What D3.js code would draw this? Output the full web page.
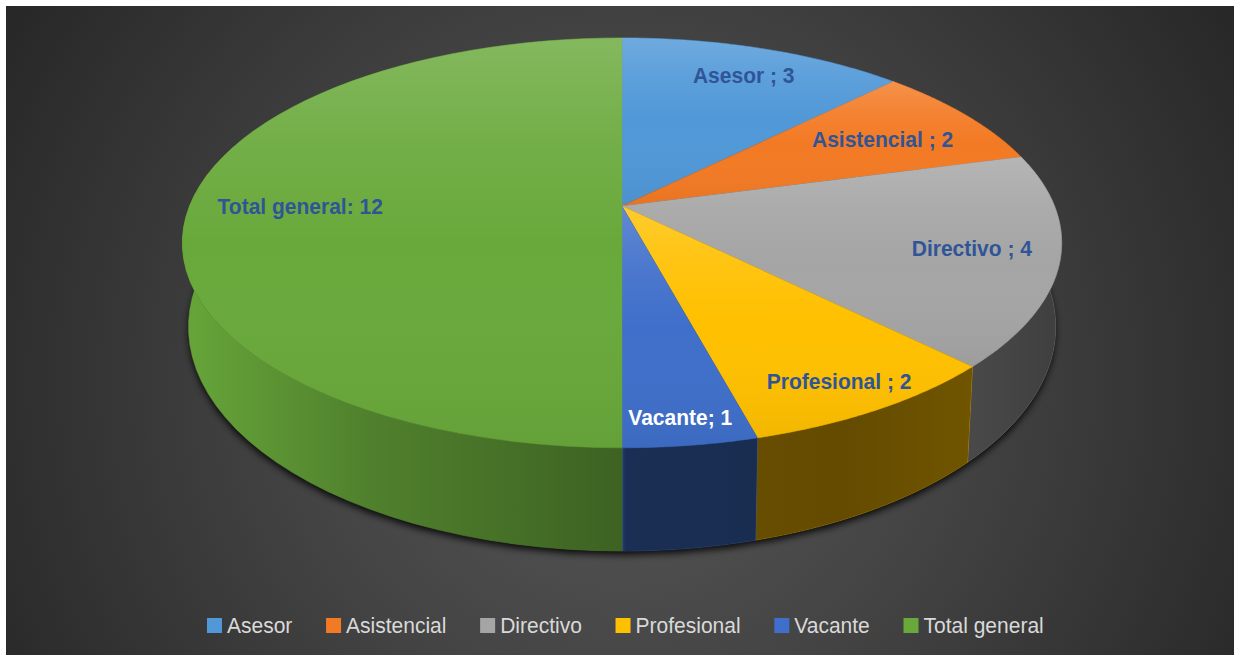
<!DOCTYPE html>
<html><head><meta charset="utf-8">
<script src="https://cdn.jsdelivr.net/npm/d3@7/dist/d3.min.js"></script>
<style>html,body{margin:0;padding:0;background:#fff;overflow:hidden}svg{display:block}
text{font-family:"Liberation Sans",Arial,sans-serif}</style></head>
<body><svg id="c" width="1234" height="655"></svg>
<script>
const categories=["Asesor","Asistencial","Directivo","Profesional","Vacante","Total general"];
const values=[3,2,4,2,1,12];
const separators=[" ; "," ; "," ; "," ; ","; ",": "];
const colors=["#5098d8","#f37a24","#a5a5a5","#ffc000","#3f6fca","#69a93b"];
const labelColors=["#2f5597","#2f5597","#2f5597","#2f5597","#ffffff","#2f5597"];
const labelRadii=[0.81,0.733,0.806,0.879,0.902,0.744];
const labelTurns=[0.7,1,0,0.5,0.3,0];

const W=1234,H=655,cx=622;
const svg=d3.select("#c");
const defs=svg.append("defs");

// background
const bg=defs.append("radialGradient").attr("id","bg").attr("gradientUnits","userSpaceOnUse")
  .attr("cx",622).attr("cy",380).attr("r",720);
[[0,"#585858"],[0.45,"#444444"],[1,"#272727"]].forEach(s=>bg.append("stop").attr("offset",s[0]).attr("stop-color",s[1]));
svg.append("rect").attr("x",6).attr("y",6).attr("width",W-6).attr("height",H-6).attr("fill","url(#bg)");

// perspective projection of the pie disc
const top_={cy:206,a:198.3,b:432.5,k:0.18};
const bot_={cy:286.7,a:216.7,b:426.5,k:0.18};
function project(o,t,r=1){const X=r*Math.sin(t),Y=r*Math.cos(t),w=1+o.k*Y;
  return [cx+o.b*X/w, o.cy-o.a*Y/w];}
const topPt=(t,r)=>project(top_,t,r), botPt=t=>project(bot_,t);
const line=d3.line();
const pie=d3.pie().sort(null).value(d=>d)(values);
const samples=(a,b)=>d3.range(0,61).map(i=>a+(b-a)*i/60);

// drop shadow under the disc
const blur=defs.append("filter").attr("id","blur").attr("x","-10%").attr("y","-10%").attr("width","120%").attr("height","120%");
blur.append("feGaussianBlur").attr("stdDeviation",3.5);
svg.append("path").attr("d",line(samples(0,2*Math.PI).map(botPt))+"Z")
  .attr("transform","translate(0,4)").attr("fill","#000").attr("opacity",0.85).attr("filter","url(#blur)");

// side-wall shade
const wall=defs.append("linearGradient").attr("id","wall").attr("gradientUnits","userSpaceOnUse")
  .attr("x1",182).attr("x2",1061).attr("y1",0).attr("y2",0);
[[0,0.02],[0.21,0.24],[0.36,0.33],[0.5,0.42],[0.505,0.58],[0.65,0.6],[0.75,0.61],[0.9,0.56],[1,0.62]]
  .forEach(s=>wall.append("stop").attr("offset",s[0]).attr("stop-color","#000").attr("stop-opacity",s[1]));
const g=svg.append("g");
pie.forEach((d,i)=>{
  const ts=samples(d.startAngle,d.endAngle);
  const p=line(ts.map(t=>topPt(t)).concat(ts.slice().reverse().map(botPt)))+"Z";
  g.append("path").attr("d",p).attr("fill",colors[i]).attr("stroke",colors[i]).attr("stroke-width",0.4);
  g.append("path").attr("d",p).attr("fill","url(#wall)");
});

// top face: each slice is lit from its own top edge
const shade=defs.append("linearGradient").attr("id","shade")
  .attr("x1",0).attr("x2",0).attr("y1",0).attr("y2",1);
[[0,"#fff",0.18],[0.25,"#fff",0.07],[0.5,"#fff",0],[1,"#000",0.05]]
  .forEach(s=>shade.append("stop").attr("offset",s[0]).attr("stop-color",s[1]).attr("stop-opacity",s[2]));
pie.forEach((d,i)=>{
  const ts=samples(d.startAngle,d.endAngle);
  const p=line([topPt(0,0)].concat(ts.map(t=>topPt(t))))+"Z";
  g.append("path").attr("d",p).attr("fill",colors[i]).attr("stroke",colors[i]).attr("stroke-width",0.4);
  g.append("path").attr("d",p).attr("fill","url(#shade)");
});

// data labels
pie.forEach((d,i)=>{
  const mid=(d.startAngle+d.endAngle)/2+labelTurns[i]*Math.PI/180, p=topPt(mid,labelRadii[i]);
  svg.append("text").attr("text-anchor","middle").attr("font-weight","bold").attr("font-size",22)
    .attr("transform",`translate(${p[0]},${p[1]+7.5}) scale(0.955,1)`)
    .attr("fill",labelColors[i]).text(categories[i]+separators[i]+values[i]);
});

// legend
const leg=svg.append("g");
let x=207;
categories.forEach((c,i)=>{
  leg.append("rect").attr("x",x).attr("y",618).attr("width",15).attr("height",15).attr("fill",colors[i]);
  const t=leg.append("text").attr("font-size",22).attr("fill","#d9d9d9")
    .attr("transform",`translate(${x+20},633) scale(0.955,1)`).text(c);
  x+=20+t.node().getComputedTextLength()*0.955+33.7;
});
</script></body></html>
